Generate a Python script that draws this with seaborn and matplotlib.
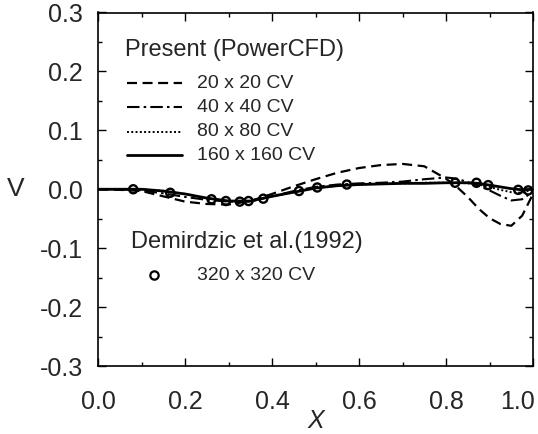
import matplotlib
matplotlib.use("Agg")
import matplotlib.pyplot as plt
from matplotlib.lines import Line2D
from matplotlib.ticker import MultipleLocator, FormatStrFormatter
from matplotlib.transforms import ScaledTranslation
import seaborn as sns
import pandas as pd

# ---- data ----
x_curve = [0.0, 0.05, 0.1, 0.15, 0.2, 0.25, 0.3, 0.35, 0.4, 0.45, 0.5, 0.55, 0.6,
           0.65, 0.7, 0.75, 0.8, 0.825, 0.85, 0.875, 0.9, 0.925, 0.95, 0.975, 1.0]
v_20 = [0.0, -0.001, -0.003, -0.012, -0.021, -0.025, -0.026, -0.020, -0.008, 0.005,
        0.017, 0.028, 0.036, 0.041, 0.043, 0.039, 0.018, 0.004, -0.013, -0.033,
        -0.049, -0.059, -0.062, -0.045, -0.008]
v_40 = [0.0, 0.0, -0.002, -0.007, -0.013, -0.018, -0.021, -0.021, -0.012, -0.003,
        0.004, 0.008, 0.010, 0.011, 0.013, 0.017, 0.020, 0.018, 0.012, 0.006,
        -0.002, -0.011, -0.019, -0.017, -0.004]
v_80 = [0.0, 0.0, 0.0, -0.003, -0.008, -0.015, -0.020, -0.020, -0.012, -0.005,
        0.002, 0.006, 0.008, 0.009, 0.010, 0.011, 0.011, 0.011, 0.010, 0.008,
        0.004, -0.001, -0.005, -0.006, 0.0]
v_160 = [0.0, 0.0, 0.0, -0.003, -0.008, -0.015, -0.020, -0.020, -0.012, -0.005,
         0.002, 0.006, 0.008, 0.009, 0.010, 0.010, 0.011, 0.011, 0.011, 0.010,
         0.007, 0.004, 0.001, -0.001, 0.0]
x_ref = [0.081, 0.166, 0.261, 0.294, 0.326, 0.346, 0.380, 0.462, 0.504, 0.572,
         0.821, 0.870, 0.897, 0.966, 0.989]
v_ref = [0.0, -0.006, -0.017, -0.020, -0.021, -0.020, -0.016, -0.003, 0.003, 0.008,
         0.011, 0.011, 0.007, -0.001, -0.002]

series_labels = ["20 x 20 CV", "40 x 40 CV", "80 x 80 CV", "160 x 160 CV"]
ref_label = "320 x 320 CV"
header_present = "Present (PowerCFD)"
header_ref = "Demirdzic et al.(1992)"
x_ticks = [0.0, 0.2, 0.4, 0.6, 0.8, 1.0]
y_ticks = [-0.3, -0.2, -0.1, 0.0, 0.1, 0.2, 0.3]

# ---- style ----
sns.set_theme(style="ticks")
plt.rcParams["font.family"] = ["Liberation Sans", "DejaVu Sans"]
plt.rcParams["axes.unicode_minus"] = False

W, H = 538, 434
fig = plt.figure(figsize=(W / 100, H / 100), dpi=100)
fig.patch.set_facecolor("white")


def fx(px):
    return px / W


def fy(py):
    return 1 - py / H


ax = fig.add_axes([fx(98), fy(366), (533 - 98) / W, (366 - 12.5) / H])
ax.set_facecolor("white")

styles = [
    dict(linestyle=(0, (4.5, 2.5)), lw=1.6),
    dict(linestyle=(0, (6, 2, 1.2, 2)), lw=1.5),
    dict(linestyle=(0, (1, 1.2)), lw=1.4),
    dict(linestyle="-", lw=2.0),
]
vals = [v_20, v_40, v_80, v_160]
for lab, v, st in zip(series_labels, vals, styles):
    df = pd.DataFrame({"x": x_curve, "V": v})
    sns.lineplot(data=df, x="x", y="V", ax=ax, color="black", legend=False,
                 **st)

df_ref = pd.DataFrame({"x": x_ref, "V": v_ref})
sns.scatterplot(data=df_ref, x="x", y="V", ax=ax, marker="o", s=34,
                facecolor="none", edgecolor="black", linewidth=1.7,
                legend=False, zorder=5)

ax.set_xlim(0.0, 1.0)
ax.set_ylim(-0.3, 0.3)
ax.set_xticks(x_ticks)
ax.set_yticks(y_ticks)
ax.xaxis.set_minor_locator(MultipleLocator(0.1))
ax.yaxis.set_minor_locator(MultipleLocator(0.05))
ax.xaxis.set_major_formatter(FormatStrFormatter("%.1f"))
ax.yaxis.set_major_formatter(FormatStrFormatter("%.1f"))
ax.tick_params(which="both", direction="in", top=True, right=True,
               color="black", width=1.0)
ax.tick_params(which="major", length=6)
ax.tick_params(which="minor", length=3)
ax.tick_params(axis="x", which="major", labelsize=18, pad=17)
ax.tick_params(axis="y", which="major", labelsize=18, pad=11)
for sp in ax.spines.values():
    sp.set_visible(True)
    sp.set_color("black")
    sp.set_linewidth(1.2)

ax.set_xlabel("")
ax.set_ylabel("")
fig.text(fx(316), fy(421), "X", fontsize=18, style="italic",
         ha="center", va="center")
fig.text(fx(16), fy(189), "V", fontsize=19, ha="center", va="center")

# ---- legend block ----
fig.text(fx(125), fy(50), header_present, fontsize=17, ha="left", va="center")
rows_y = [83, 107, 132, 155]
for lab, st, ry in zip(series_labels, styles, rows_y):
    fig.add_artist(Line2D([fx(127), fx(182)], [fy(ry), fy(ry)],
                          transform=fig.transFigure, color="black", **st))
    fig.text(fx(197), fy(ry), lab, fontsize=14, ha="left", va="center")

fig.text(fx(131), fy(242), header_ref, fontsize=17, ha="left", va="center")
fig.add_artist(Line2D([fx(154)], [fy(275)], transform=fig.transFigure,
                      marker="o", markersize=6, markerfacecolor="none",
                      markeredgecolor="black", markeredgewidth=1.6,
                      linestyle="none"))
fig.text(fx(197), fy(275), ref_label, fontsize=14, ha="left", va="center")

# the last x tick label sits a little left of its tick in the reference
fig.canvas.draw()
last = ax.xaxis.get_major_ticks()[-1].label1
last.set_transform(last.get_transform() +
                   ScaledTranslation(-16 / 100, 0, fig.dpi_scale_trans))

fig.savefig("out.png", dpi=100, facecolor="white")
